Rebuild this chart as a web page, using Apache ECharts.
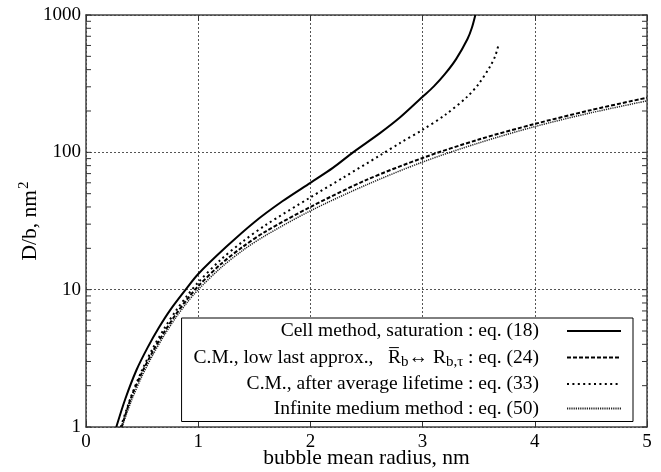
<!DOCTYPE html>
<html>
<head>
<meta charset="utf-8">
<script src="https://cdn.jsdelivr.net/npm/echarts@6/dist/echarts.min.js"></script>
<style>html,body{margin:0;padding:0;background:#fff}#c{width:661px;height:472px}</style>
</head>
<body>
<div id="c"></div>
<script>
// Cell method, saturation : eq. (18)
const xSat = [0.27, 0.35, 0.45, 0.55, 0.65, 0.75, 0.888, 1.0, 1.25, 1.5, 1.75, 2.0, 2.2, 2.38, 2.62, 2.80, 3.0, 3.1, 3.2, 3.3, 3.4, 3.44, 3.47];
const ySat = [1.0, 1.6, 2.6, 3.8, 5.3, 7.1, 10, 13, 20.5, 31, 44, 60, 77, 100, 138, 180, 254, 302, 372, 479, 668, 811, 1000];
// C.M., low last approx. : eq. (24)
const xLow = [0.318, 0.4, 0.5, 0.6, 0.7, 0.8, 0.9, 1.0, 1.2, 1.4, 1.6, 2.0, 2.5, 3.0, 3.5, 4.0, 4.5, 5.0];
const yLow = [1.0, 1.62, 2.5, 3.6, 4.95, 6.6, 8.5, 10.6, 15.3, 20.6, 26.5, 40, 63, 91, 124, 161, 203, 250];
// C.M., after average lifetime : eq. (33)
const xAvg = [0.31, 0.4, 0.5, 0.6, 0.7, 0.8, 0.9, 1.0, 1.2, 1.4, 1.6, 2.0, 2.3, 2.62, 2.8, 3.0, 3.2, 3.4, 3.5, 3.6, 3.65, 3.68];
const yAvg = [1.0, 1.65, 2.6, 3.8, 5.25, 7.0, 9.0, 11.3, 16.5, 22.5, 29.5, 47, 66, 95, 117, 146, 187, 255, 315, 420, 510, 623];
// Infinite medium method : eq. (50)
const xInf = [0.32, 0.4, 0.5, 0.6, 0.7, 0.8, 0.9, 1.0, 1.2, 1.4, 1.6, 2.0, 2.5, 3.0, 3.5, 4.0, 4.5, 5.0];
const yInf = [1.0, 1.52, 2.36, 3.4, 4.7, 6.25, 8.05, 10.0, 14.4, 19.4, 24.8, 37.5, 58, 85, 117, 154, 194, 237];

const seriesNames = [
  'Cell method, saturation : eq. (18)',
  'C.M., low last approx., Rb<->Rb,tau : eq. (24)',
  'C.M., after average lifetime : eq. (33)',
  'Infinite medium method : eq. (50)'
];
const xTicks = [0, 1, 2, 3, 4, 5];
const yDecades = [1, 10, 100, 1000];

const minorY = [];
for (let d = 0; d < yDecades.length - 1; d++) {
  for (let k = 1; k < 10; k++) minorY.push(yDecades[d] * k);
}
minorY.push(yDecades[yDecades.length - 1]);

const pairs = (xs, ys) => xs.map((x, i) => [x, ys[i]]);
const FONT = 'Liberation Serif';
const axisLineStyle = { color: '#444', width: 1.5 };
const gridLine = { show: true, lineStyle: { color: '#555', width: 1, type: [2, 2] } };
const X_MIN = xTicks[0], X_MAX = xTicks[xTicks.length - 1];

const chart = echarts.init(document.getElementById('c'), null, { renderer: 'canvas' });
chart.setOption({
  animation: false,
  backgroundColor: '#fff',
  textStyle: { fontFamily: FONT, color: '#000' },
  grid: { left: 86, right: 14, top: 15, bottom: 45, containLabel: false, outerBoundsMode: 'none' },
  xAxis: [{
    type: 'value', min: X_MIN, max: X_MAX, interval: 1, position: 'bottom',
    axisLine: { show: true, onZero: false, lineStyle: axisLineStyle },
    axisTick: { show: true, inside: true, length: 6, lineStyle: { color: '#333' } },
    axisLabel: { fontFamily: FONT, fontSize: 19, color: '#000', margin: 6,
      formatter: v => xTicks.indexOf(v) >= 0 ? String(v) : '' },
    splitLine: gridLine,
    name: 'bubble mean radius, nm', nameLocation: 'middle', nameGap: 20, nameMoveOverlap: false,
    nameTextStyle: { fontFamily: FONT, fontSize: 21.5, color: '#000' }
  }, {
    type: 'value', min: X_MIN, max: X_MAX, interval: 1, position: 'top',
    axisLine: { show: true, onZero: false, lineStyle: axisLineStyle },
    axisTick: { show: true, inside: true, length: 6, lineStyle: { color: '#333' } },
    axisLabel: { show: false }, splitLine: { show: false }
  }],
  yAxis: [{
    type: 'log', logBase: 10, min: 1, max: 1000, position: 'left',
    axisLine: { show: true, onZero: false, lineStyle: axisLineStyle },
    axisTick: { show: false },
    axisLabel: { fontFamily: FONT, fontSize: 19, color: '#000', margin: 5,
      formatter: v => String(Math.round(v)) },
    splitLine: gridLine,
    name: 'D/b, nm{sup|2}', nameLocation: 'middle', nameGap: 42, nameMoveOverlap: false,
    nameTextStyle: { fontFamily: FONT, fontSize: 21.5, color: '#000',
      rich: { sup: { fontFamily: FONT, fontSize: 15, padding: [0, 0, 12, 1], color: '#000' } } }
  }, {
    type: 'log', logBase: 10, min: 1, max: 1000, position: 'right',
    axisLine: { show: true, onZero: false, lineStyle: axisLineStyle },
    axisTick: { show: false },
    axisLabel: { show: false }, splitLine: { show: false }
  }],
  legend: {
    show: true, orient: 'vertical', align: 'right', right: 28, top: 318,
    padding: [3, 11, 3, 12], itemGap: 4.5, itemWidth: 54, itemHeight: 14,
    backgroundColor: '#fff', borderColor: '#000', borderWidth: 1, borderRadius: 0,
    selectedMode: false,
    itemStyle: { opacity: 0 },
    data: seriesNames,
    formatter: function (name) {
      if (name === seriesNames[1]) {
        return '{t|C.M., low last approx.,   R\u0305}{s|b}{t|\u2194 R}{s|b,\u03c4}{t| : eq. (24)}';
      }
      return '{t|' + name + '}';
    },
    textStyle: {
      fontFamily: FONT, fontSize: 19.5, color: '#000', lineHeight: 20, padding: [0, 23, 0, 0],
      rich: {
        t: { fontFamily: FONT, fontSize: 19.5, color: '#000', lineHeight: 20 },
        s: { fontFamily: FONT, fontSize: 15, color: '#000', padding: [9, 0, 0, 0], lineHeight: 20 }
      }
    }
  },
  series: [
    { name: seriesNames[0], type: 'line', data: pairs(xSat, ySat), smooth: 0.3, symbol: 'none', clip: true,
      lineStyle: { color: '#000', width: 2, type: 'solid' } },
    { name: seriesNames[1], type: 'line', data: pairs(xLow, yLow), smooth: 0.3, symbol: 'none', clip: true,
      lineStyle: { color: '#000', width: 2, type: [4, 2] } },
    { name: seriesNames[2], type: 'line', data: pairs(xAvg, yAvg), smooth: 0.3, symbol: 'none', clip: true,
      lineStyle: { color: '#000', width: 2, type: [2, 3.4] } },
    { name: seriesNames[3], type: 'line', data: pairs(xInf, yInf), smooth: 0.3, symbol: 'none', clip: true,
      lineStyle: { color: '#222', width: 1.5, type: [1.2, 1] } },
    { name: 'ticks', type: 'custom', coordinateSystem: 'cartesian2d', silent: true, clip: false,
      data: minorY.map(v => [X_MIN, v]),
      renderItem: function (params, api) {
        const v = api.value(1);
        const pl = api.coord([X_MIN, v]);
        const pr = api.coord([X_MAX, v]);
        const st = { stroke: '#333', lineWidth: 1 };
        return { type: 'group', children: [
          { type: 'line', shape: { x1: pl[0], y1: pl[1], x2: pl[0] + 5, y2: pl[1] }, style: st },
          { type: 'line', shape: { x1: pr[0], y1: pr[1], x2: pr[0] - 5, y2: pr[1] }, style: st }
        ] };
      }
    }
  ]
});
</script>
</body>
</html>
